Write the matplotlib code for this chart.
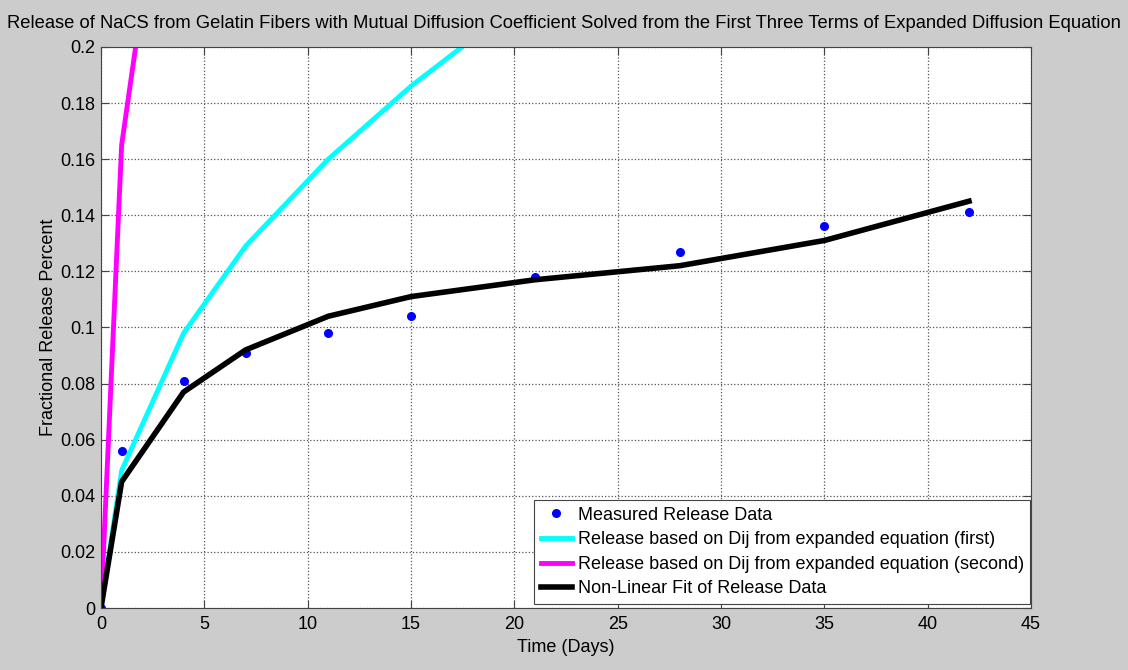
import matplotlib.pyplot as plt

plt.rcParams['font.family'] = ['Liberation Sans', 'DejaVu Sans']

# Time points (days)
days = [0, 1, 4, 7, 11, 15, 21, 28, 35, 42]

# Measured fractional release
measured = [0.0, 0.056, 0.081, 0.091, 0.098, 0.104, 0.118, 0.127, 0.136, 0.141]

# Release from expanded equation (first)
first = [0.0, 0.049, 0.098, 0.129, 0.160, 0.186, 0.220, 0.248, 0.270, 0.290]

# Release from expanded equation (second)
second = [0.0, 0.165, 0.320, 0.400, 0.470, 0.520, 0.580, 0.630, 0.670, 0.700]

# Non-linear fit
fit = [0.0, 0.045, 0.077, 0.092, 0.104, 0.111, 0.117, 0.122, 0.131, 0.145]

fig = plt.figure(figsize=(11.28, 6.70), dpi=100, facecolor='#cccccc')
ax = fig.add_axes([0.0895, 0.0925, 0.8245, 0.8375])
ax.set_facecolor('white')

ax.plot(days, measured, '.', color='blue', markersize=11, label='Measured Release Data')
ax.plot(days, first, color='cyan', linewidth=3.5,
        label='Release based on Dij from expanded equation (first)')
ax.plot(days, second, color='magenta', linewidth=3.5,
        label='Release based on Dij from expanded equation (second)')
ax.plot(days, fit, color='black', linewidth=4, label='Non-Linear Fit of Release Data')

ax.set_xlim(0, 45)
ax.set_ylim(0, 0.2)
ax.set_xticks(range(0, 46, 5))
ax.set_yticks([0, 0.02, 0.04, 0.06, 0.08, 0.1, 0.12, 0.14, 0.16, 0.18, 0.2])
ax.set_yticklabels(['0', '0.02', '0.04', '0.06', '0.08', '0.1', '0.12', '0.14',
                    '0.16', '0.18', '0.2'])
ax.tick_params(direction='in', top=True, right=True, labelsize=13, length=6,
               color='#444444')
ax.tick_params(axis='x', pad=6)
ax.tick_params(axis='y', pad=4)
ax.grid(True, linestyle=':', color='#555555', linewidth=0.9)
for s in ax.spines.values():
    s.set_linewidth(0.8)
    s.set_color('#444444')

ax.set_xlabel('Time (Days)', fontsize=13, labelpad=4)
ax.set_ylabel('Fractional Release Percent', fontsize=13, labelpad=2)
fig.suptitle('Release of NaCS from Gelatin Fibers with Mutual Diffusion Coefficient '
             'Solved from the First Three Terms of Expanded Diffusion Equation',
             fontsize=13.2, y=0.978)

leg = ax.legend(loc='lower right', bbox_to_anchor=(1.0, 0.006), fontsize=13,
                fancybox=False, framealpha=1, edgecolor='#444444', borderpad=0.35,
                labelspacing=0.42, handlelength=1.75, handletextpad=0.3,
                borderaxespad=0.05)
leg.get_frame().set_linewidth(0.8)

fig.savefig('out.png', dpi=100, facecolor=fig.get_facecolor())
